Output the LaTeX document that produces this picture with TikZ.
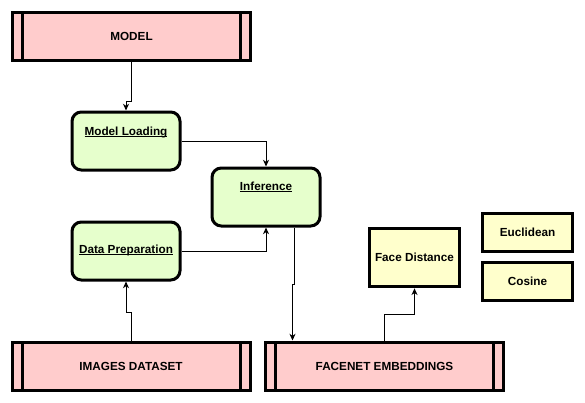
\documentclass[tikz,border=0pt]{standalone}
\usepackage{fontspec}
\setmainfont{Liberation Sans}
\usetikzlibrary{arrows.meta}
\definecolor{pinkf}{HTML}{FFCCCC}
\definecolor{greenf}{HTML}{E6FFCC}
\definecolor{yellowf}{HTML}{FFFFCC}
\newcommand\myul[1]{\setbox0\hbox{#1}\rlap{\rule[-1.3pt]{\wd0}{0.75pt}}\box0}
\begin{document}
\begin{tikzpicture}[x=0.75pt,y=-0.75pt,
  lbl/.style={font=\fontsize{8.8pt}{10pt}\selectfont\bfseries, inner sep=0pt, anchor=base},
  procbox/.style={draw, line width=2.25pt, fill=pinkf, minimum width=178.5pt, minimum height=36pt, inner sep=0pt,
    font=\fontsize{8.8pt}{10pt}\selectfont\bfseries,
    path picture={\draw[line width=2.25pt] ([xshift=7.5pt]path picture bounding box.north west) -- ([xshift=7.5pt]path picture bounding box.south west);
                  \draw[line width=2.25pt] ([xshift=-7.5pt]path picture bounding box.north east) -- ([xshift=-7.5pt]path picture bounding box.south east);}},
  greenbox/.style={draw, line width=2.25pt, fill=greenf, rounded corners=7pt, minimum width=81pt, minimum height=43.5pt, inner sep=0pt},
  yelbox/.style={draw, line width=2.25pt, fill=yellowf, minimum width=67pt, inner sep=0pt, font=\fontsize{8.8pt}{10pt}\selectfont\bfseries},
  conn/.style={draw, line width=0.75pt, -{Stealth[length=5pt,width=4.5pt,inset=1.5pt]}}
]
\useasboundingbox (0,0) rectangle (585,403);

\node[procbox] (m) at (131.5,36.5) {MODEL};
\node[procbox] (im) at (131,366) {IMAGES DATASET};
\node[procbox] (fe) at (384.5,366) {FACENET EMBEDDINGS};

\node[greenbox] (ml) at (126,141) {};
\node[lbl] (mlt) at (126,135) {\myul{Model Loading}};
\node[greenbox] (inf) at (266,197) {};
\node[lbl] (inft) at (266,190.5) {\myul{Inference}};
\node[greenbox] (dp) at (126,251) {};
\node[lbl] (dpt) at (126,253.5) {\myul{Data Preparation}};

\node[yelbox, minimum height=44pt] (fd) at (414.5,257.5) {Face Distance};
\node[yelbox, minimum height=28.5pt] (eu) at (527.5,232) {Euclidean};
\node[yelbox, minimum height=29pt] (co) at (527.5,281.5) {Cosine};

\draw[conn] (m.south) |- (126,101) -- (ml.north);
\draw[conn] (ml.east) -| (inf.north);
\draw[conn] (dp.east) -| (inf.south);
\draw[conn] (inf.south -| 294,0) |- (292.5,284) -- (fe.north -| 292.5,0);
\draw[conn] (im.north) |- (126,312) -- (dp.south);
\draw[conn] (fe.north) |- (414.5,314) -- (fd.south);
\end{tikzpicture}
\end{document}
